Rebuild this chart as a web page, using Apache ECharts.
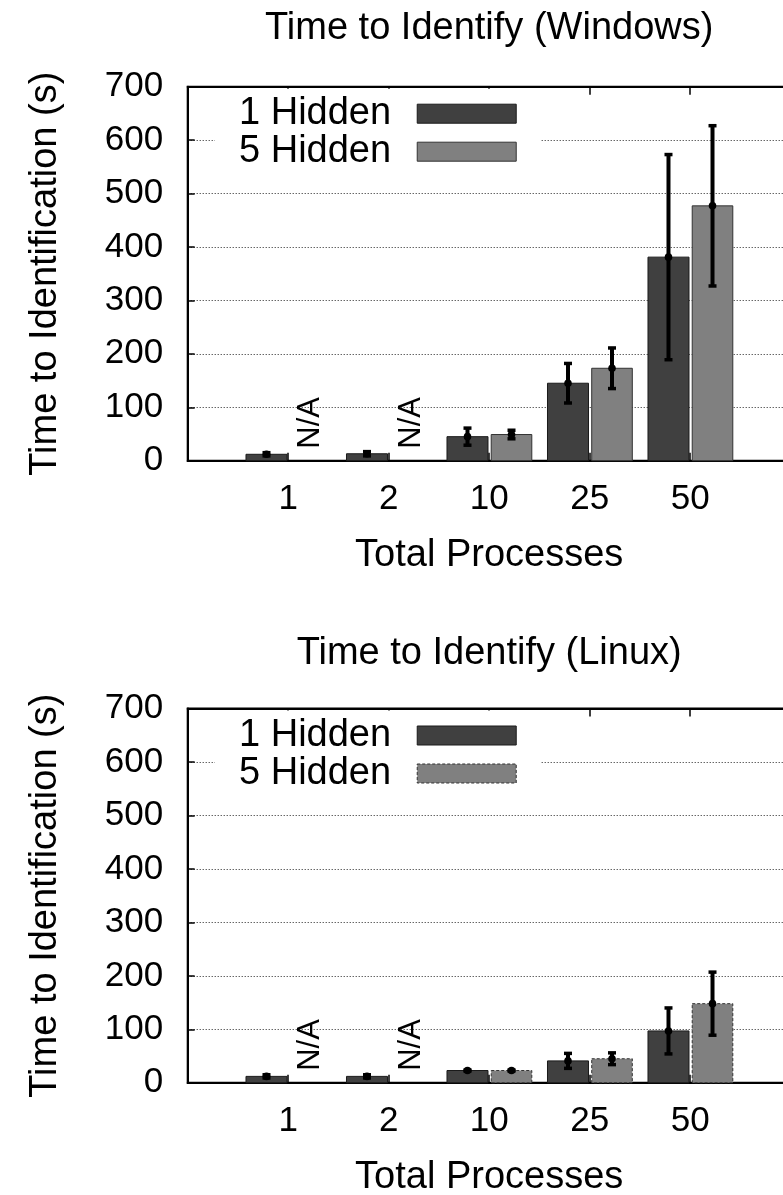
<!DOCTYPE html>
<html><head><meta charset="utf-8">
<script src="https://cdn.jsdelivr.net/npm/echarts@6/dist/echarts.min.js"></script>
<style>html,body{margin:0;padding:0;background:#fff}#c{width:783px;height:1195px}</style>
</head><body><div id="c"></div>
<script>
// ---- data ----
const categories = ['1', '2', '10', '25', '50'];
const seriesNames = ['1 Hidden', '5 Hidden'];
const chartTitles = ['Time to Identify (Windows)', 'Time to Identify (Linux)'];
const xAxisName = 'Total Processes';
const yAxisName = 'Time to Identification (s)';
const yTickMax = 700;
const yTickStep = 100;

const winHidden1 = [12, 13, 45, 145, 381];
const winHidden1Err = [3, 4, 16, 37, 192];
const winHidden5 = [null, null, 49, 173, 477];
const winHidden5Err = [null, null, 8, 38, 150];

const linHidden1 = [12, 12, 23, 41, 97];
const linHidden1Err = [3, 3, 1, 14, 43];
const linHidden5 = [null, null, 23, 45, 148];
const linHidden5Err = [null, null, 1, 11, 59];

// ---- styling / layout ----
const FONT = '"Liberation Sans", Arial, Helvetica, sans-serif';
const DARK = '#404040', LIGHT = '#808080';
const grids = [
  { left: 187.7, top: 86.7, width: 603, height: 374 },
  { left: 187.7, top: 708.5, width: 603, height: 374.3 }
];

function makeRender(vals, errs, lo, hi, fill, stroke, dash) {
  return function (params, api) {
    const idx = params.dataIndex;
    const i = api.value(0);
    const v = vals[idx];
    const mid = (lo + hi) / 2;
    if (v == null) {
      const p = api.coord([i + mid, 0]);
      return {
        type: 'text', x: p[0], y: p[1] - 12, rotation: Math.PI / 2,
        style: { text: 'N/A', fontSize: 31, fontFamily: FONT, fill: '#000', align: 'left', verticalAlign: 'middle' }
      };
    }
    const tl = api.coord([i + lo, v]);
    const br = api.coord([i + hi, 0]);
    const e = errs[idx] || 0;
    const cx = api.coord([i + mid, v])[0];
    const yTop = api.coord([i + mid, v + e])[1];
    const yBot = api.coord([i + mid, v - e])[1];
    const rectStyle = { fill: fill, stroke: stroke, lineWidth: 1 };
    if (dash) rectStyle.lineDash = dash;
    return {
      type: 'group',
      children: [
        { type: 'rect', shape: { x: tl[0], y: tl[1], width: br[0] - tl[0], height: br[1] - tl[1] }, style: rectStyle },
        { type: 'line', shape: { x1: cx, y1: yTop, x2: cx, y2: yBot }, style: { stroke: '#000', lineWidth: 4 } },
        { type: 'line', shape: { x1: cx - 4, y1: yTop, x2: cx + 4, y2: yTop }, style: { stroke: '#000', lineWidth: 3.5 } },
        { type: 'line', shape: { x1: cx - 4, y1: yBot, x2: cx + 4, y2: yBot }, style: { stroke: '#000', lineWidth: 3.5 } },
        { type: 'circle', shape: { cx: cx, cy: tl[1], r: 3.8 }, style: { fill: '#000' } }
      ]
    };
  };
}

const textBase = { fontFamily: FONT, color: '#000' };
const nameStyle = Object.assign({ fontSize: 38, lineHeight: 38 }, textBase);

const xAxes = [], yAxes = [], series = [], legends = [];
const datasets = [
  [winHidden1, winHidden1Err, winHidden5, winHidden5Err],
  [linHidden1, linHidden1Err, linHidden5, linHidden5Err]
];

grids.forEach((g, gi) => {
  xAxes.push({
    gridIndex: gi, type: 'value', position: 'bottom', min: -1, max: categories.length, interval: 1,
    axisLine: { show: true, onZero: false, lineStyle: { color: '#000', width: 2 } },
    axisTick: { show: true, inside: true, length: 8, lineStyle: { color: '#000', width: 1.5 } },
    axisLabel: {
      show: true, margin: 21, fontSize: 35, lineHeight: 35, fontFamily: FONT, color: '#000',
      formatter: v => (Number.isInteger(v) && v >= 0 && v < categories.length) ? categories[v] : ''
    },
    splitLine: { show: false },
    name: xAxisName, nameLocation: 'middle', nameGap: 76, nameTextStyle: nameStyle
  });
  xAxes.push({
    gridIndex: gi, type: 'value', position: 'top', min: -1, max: categories.length, interval: 1,
    axisLine: { show: true, onZero: false, lineStyle: { color: '#000', width: 2 } },
    axisTick: { show: true, inside: true, length: 8, lineStyle: { color: '#000', width: 1.5 } },
    axisLabel: { show: false },
    splitLine: { show: false },
    name: chartTitles[gi], nameLocation: 'middle', nameGap: gi === 0 ? 39 : 36, nameTextStyle: nameStyle
  });
  yAxes.push({
    gridIndex: gi, type: 'value', min: 0, max: yTickMax, interval: yTickStep,
    axisLine: { show: true, onZero: false, lineStyle: { color: '#000', width: 2 } },
    axisTick: { show: true, inside: true, length: 7, lineStyle: { color: '#000', width: 1.5 } },
    axisLabel: { margin: 24.5, fontSize: 35, fontFamily: FONT, color: '#000' },
    splitLine: { show: true, lineStyle: { color: '#222', width: 1, type: [1, 2] } },
    name: yAxisName, nameLocation: 'middle', nameGap: 123.6, nameTextStyle: nameStyle
  });
  const [h1, e1, h5, e5] = datasets[gi];
  const lightDash = gi === 1 ? [3, 2] : null;
  series.push({
    type: 'custom', name: seriesNames[0], xAxisIndex: gi * 2, yAxisIndex: gi,
    itemStyle: { color: DARK },
    encode: { x: 0, y: 1 },
    data: categories.map((c, i) => [i, h1[i] == null ? 0 : h1[i]]),
    renderItem: makeRender(h1, e1, -0.42, -0.012, DARK, '#1a1a1a', null)
  });
  series.push({
    type: 'custom', name: seriesNames[1], xAxisIndex: gi * 2, yAxisIndex: gi,
    itemStyle: { color: LIGHT },
    encode: { x: 0, y: 1 },
    data: categories.map((c, i) => [i, h5[i] == null ? 0 : h5[i]]),
    renderItem: makeRender(h5, e5, 0.02, 0.424, LIGHT, '#333', lightDash)
  });
  legends.push({
    orient: 'vertical', align: 'right', left: 215, top: g.top + 2,
    padding: [6, 24, 6, 24], backgroundColor: '#fff', itemGap: 0,
    itemWidth: 99, itemHeight: 19, icon: 'rect', selectedMode: false,
    formatter: n => n + '  ',
    textStyle: Object.assign({ fontSize: 38, lineHeight: 38 }, textBase),
    data: [
      { name: seriesNames[0], itemStyle: { color: DARK, borderColor: '#1a1a1a', borderWidth: 1 } },
      { name: seriesNames[1], itemStyle: lightDash
          ? { color: LIGHT, borderColor: '#333', borderWidth: 1, borderType: [3, 2] }
          : { color: LIGHT, borderColor: '#333', borderWidth: 1 } }
    ]
  });
});

const chart = echarts.init(document.getElementById('c'), null, { renderer: 'canvas' });
chart.setOption({
  backgroundColor: '#fff',
  animation: false,
  grid: grids.map(g => Object.assign({
    show: true, borderColor: '#000', borderWidth: 2, backgroundColor: 'transparent',
    containLabel: false, outerBoundsMode: 'none'
  }, g)),
  xAxis: xAxes,
  yAxis: yAxes,
  legend: legends,
  series: series
});
</script>
</body></html>
